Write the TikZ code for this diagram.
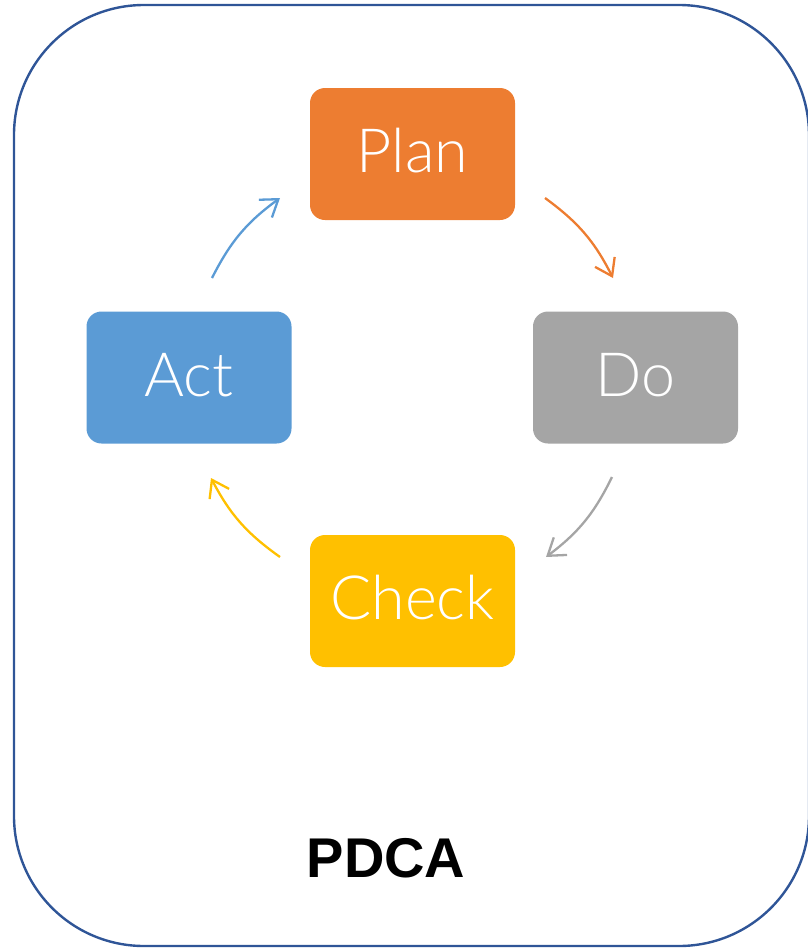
\documentclass[tikz,border=0pt]{standalone}
\usepackage{fontspec}
\setmainfont{Noto Sans}
\newfontfamily\stagefont{Lato Light}
\newfontfamily\titlefont{Liberation Sans}
\usetikzlibrary{arrows.meta}
\definecolor{frameblue}{HTML}{2F5597}
\definecolor{planorange}{HTML}{ED7D31}
\definecolor{dogray}{HTML}{A5A5A5}
\definecolor{checkyellow}{HTML}{FFC000}
\definecolor{actblue}{HTML}{5B9BD5}
\tikzset{
  stage/.style={rounded corners=15pt, minimum width=205pt, minimum height=132pt,
    inner sep=0pt, text=white, font=\stagefont\fontsize{61}{64}\selectfont,
    text height=43pt, text depth=6pt},
  cycle/.style={line width=2.3pt, -{Straight Barb[length=16pt,width=22pt,line width=2.3pt]}, bend left=13.5},
}
\begin{document}
\begin{tikzpicture}[x=1pt,y=-1pt]
\useasboundingbox (0,0) rectangle (807,948);
% outer frame
\draw[frameblue, line width=2.4pt, rounded corners=130pt] (14,5) rectangle (809,946);
% the four stages
\node[stage, fill=planorange]  (plan)  at (412.5,154) {Plan};
\node[stage, fill=dogray]      (do)    at (635.5,377.5) {Do};
\node[stage, fill=checkyellow] (check) at (412.5,601) {Check};
\node[stage, fill=actblue]     (act)   at (189,377.5) {Act};
% arrow end points around the cycle
\coordinate (a1) at (212,278); \coordinate (a2) at (280,198);
\coordinate (p1) at (545,198); \coordinate (p2) at (613,278);
\coordinate (d1) at (612,477); \coordinate (d2) at (546,557);
\coordinate (c1) at (280,557); \coordinate (c2) at (211,478);
\draw[cycle, actblue]     (a1) to (a2);
\draw[cycle, planorange]  (p1) to (p2);
\draw[cycle, dogray]      (d1) to (d2);
\draw[cycle, checkyellow] (c1) to (c2);
% title
\node[font=\titlefont\bfseries\fontsize{56}{60}\selectfont, text height=41pt, text depth=0pt] (title) at (386,857) {PDCA};
\end{tikzpicture}
\end{document}
